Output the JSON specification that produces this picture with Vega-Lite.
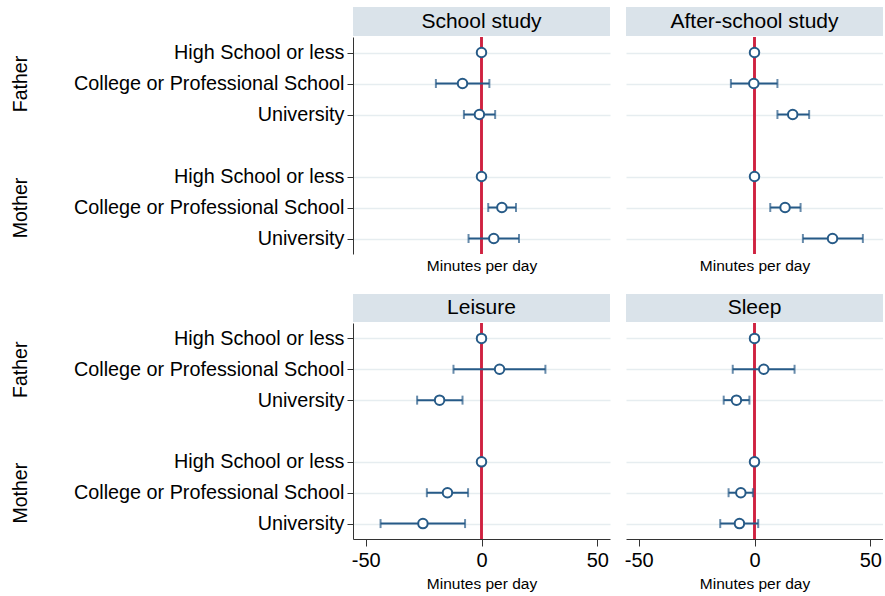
{
  "$schema": "https://vega.github.io/schema/vega-lite/v6.json",
  "background": "white",
  "padding": {"left": 10, "top": 7, "right": 0, "bottom": 0},
  "config": {
    "font": "Liberation Sans",
    "view": {"stroke": null},
    "axis": {"labelColor": "#000", "titleColor": "#000", "titleFontWeight": "normal", "labelFont": "Liberation Sans", "titleFont": "Liberation Sans"}
  },
  "datasets": {
    "est": [
      {"outcome": "School study", "parent": "Father", "edu": "High School or less", "item": "Father|High School or less", "est": 0, "lo": null, "hi": null},
      {"outcome": "School study", "parent": "Father", "edu": "College or Professional School", "item": "Father|College or Professional School", "est": -8.2, "lo": -19.7, "hi": 3.4},
      {"outcome": "School study", "parent": "Father", "edu": "University", "item": "Father|University", "est": -0.9, "lo": -7.6, "hi": 5.9},
      {"outcome": "School study", "parent": "Mother", "edu": "High School or less", "item": "Mother|High School or less", "est": 0, "lo": null, "hi": null},
      {"outcome": "School study", "parent": "Mother", "edu": "College or Professional School", "item": "Mother|College or Professional School", "est": 8.8, "lo": 2.9, "hi": 14.9},
      {"outcome": "School study", "parent": "Mother", "edu": "University", "item": "Mother|University", "est": 5.3, "lo": -5.6, "hi": 16.2},
      {"outcome": "After-school study", "parent": "Father", "edu": "High School or less", "item": "Father|High School or less", "est": 0, "lo": null, "hi": null},
      {"outcome": "After-school study", "parent": "Father", "edu": "College or Professional School", "item": "Father|College or Professional School", "est": -0.3, "lo": -10.2, "hi": 9.9},
      {"outcome": "After-school study", "parent": "Father", "edu": "University", "item": "Father|University", "est": 16.5, "lo": 9.9, "hi": 23.6},
      {"outcome": "After-school study", "parent": "Mother", "edu": "High School or less", "item": "Mother|High School or less", "est": 0, "lo": null, "hi": null},
      {"outcome": "After-school study", "parent": "Mother", "edu": "College or Professional School", "item": "Mother|College or Professional School", "est": 13.2, "lo": 6.8, "hi": 19.9},
      {"outcome": "After-school study", "parent": "Mother", "edu": "University", "item": "Mother|University", "est": 33.7, "lo": 20.9, "hi": 46.8},
      {"outcome": "Leisure", "parent": "Father", "edu": "High School or less", "item": "Father|High School or less", "est": 0, "lo": null, "hi": null},
      {"outcome": "Leisure", "parent": "Father", "edu": "College or Professional School", "item": "Father|College or Professional School", "est": 7.8, "lo": -12.1, "hi": 27.6},
      {"outcome": "Leisure", "parent": "Father", "edu": "University", "item": "Father|University", "est": -18.1, "lo": -27.8, "hi": -8.2},
      {"outcome": "Leisure", "parent": "Mother", "edu": "High School or less", "item": "Mother|High School or less", "est": 0, "lo": null, "hi": null},
      {"outcome": "Leisure", "parent": "Mother", "edu": "College or Professional School", "item": "Mother|College or Professional School", "est": -14.7, "lo": -23.6, "hi": -5.8},
      {"outcome": "Leisure", "parent": "Mother", "edu": "University", "item": "Mother|University", "est": -25.3, "lo": -43.6, "hi": -7.1},
      {"outcome": "Sleep", "parent": "Father", "edu": "High School or less", "item": "Father|High School or less", "est": 0, "lo": null, "hi": null},
      {"outcome": "Sleep", "parent": "Father", "edu": "College or Professional School", "item": "Father|College or Professional School", "est": 4.0, "lo": -9.4, "hi": 17.3},
      {"outcome": "Sleep", "parent": "Father", "edu": "University", "item": "Father|University", "est": -7.8, "lo": -13.3, "hi": -2.2},
      {"outcome": "Sleep", "parent": "Mother", "edu": "High School or less", "item": "Mother|High School or less", "est": 0, "lo": null, "hi": null},
      {"outcome": "Sleep", "parent": "Mother", "edu": "College or Professional School", "item": "Mother|College or Professional School", "est": -5.9, "lo": -11.2, "hi": -0.7},
      {"outcome": "Sleep", "parent": "Mother", "edu": "University", "item": "Mother|University", "est": -6.5, "lo": -14.8, "hi": 1.6}
    ]
  },
  "spacing": 20,
  "vconcat": [
    {
      "spacing": 16,
      "hconcat": [
        {
          "spacing": 0,
          "vconcat": [
            {"width": 257, "height": 29, "view": {"fill": "#dae3ea", "stroke": null},
             "data": {"values": [{"title": "School study"}]},
             "mark": {"type": "text", "fontSize": 21, "color": "#000", "baseline": "middle", "align": "center"},
             "encoding": {"text": {"field": "title"}}},
            {"width": 257, "height": 217,
             "data": {"name": "est"},
             "transform": [{"filter": "datum.outcome == 'School study'"}],
             "resolve": {"scale": {"y": "independent"}, "axis": {"y": "independent"}},
             "layer": [
               {"mark": {"type": "rule", "color": "#cf2240", "strokeWidth": 1.8}, "encoding": {"x": {"datum": 0, "type": "quantitative", "scale": {"domain": [-55.5, 55.5], "nice": false, "zero": false}}}},
               {"encoding": {"y": {"field": "item", "type": "nominal", "scale": {"type": "point", "padding": 0.5, "domain": ["Father|High School or less", "Father|College or Professional School", "Father|University", "|", "Mother|High School or less", "Mother|College or Professional School", "Mother|University"]},
                  "axis": {"orient": "left", "title": null, "values": ["Father|High School or less", "Father|College or Professional School", "Father|University", "Mother|High School or less", "Mother|College or Professional School", "Mother|University"], "labelExpr": "split(datum.value, '|')[1]", "labelFontSize": 19.8, "labelLimit": 400, "labelPadding": 3, "tickSize": 6, "tickColor": "#333", "domainColor": "#333", "grid": true, "gridColor": "#e6edf0", "gridWidth": 1.5}}},
                "layer": [
                  {"transform": [{"filter": "datum.lo != null"}], "mark": {"type": "errorbar", "color": "#265a87", "thickness": 2, "ticks": {"size": 9, "thickness": 2}},
                   "encoding": {"x": {"field": "lo", "type": "quantitative", "title": "Minutes per day", "scale": {"domain": [-55.5, 55.5], "nice": false, "zero": false}, "axis": {"title": "Minutes per day", "titleFontSize": 15.5, "titlePadding": 4, "labels": false, "ticks": false, "domain": false, "grid": false, "values": [-50, 0, 50]}}, "x2": {"field": "hi"}}},
                  {"mark": {"type": "point", "shape": "circle", "filled": true, "fill": "white", "stroke": "#265a87", "strokeWidth": 2, "size": 90, "opacity": 1},
                   "encoding": {"x": {"field": "est", "type": "quantitative", "title": "Minutes per day", "scale": {"domain": [-55.5, 55.5], "nice": false, "zero": false}, "axis": {"title": "Minutes per day", "titleFontSize": 15.5, "titlePadding": 4, "labels": false, "ticks": false, "domain": false, "grid": false, "values": [-50, 0, 50]}}}}
                ]},
               {"mark": {"type": "point", "opacity": 0},
                "encoding": {"y": {"field": "parent", "type": "nominal", "scale": {"type": "point", "padding": 0.375, "domain": ["Father", "Mother"]},
                  "axis": {"orient": "left", "title": null, "offset": 327, "labelAngle": -90, "labelAlign": "center", "labelBaseline": "alphabetic", "labelFontSize": 19.5, "labelPadding": 0, "ticks": false, "tickSize": 0, "domain": false, "grid": false}}}}
             ]}
          ]
        },
        {
          "spacing": 0,
          "vconcat": [
            {"width": 257, "height": 29, "view": {"fill": "#dae3ea", "stroke": null},
             "data": {"values": [{"title": "After-school study"}]},
             "mark": {"type": "text", "fontSize": 21, "color": "#000", "baseline": "middle", "align": "center"},
             "encoding": {"text": {"field": "title"}}},
            {"width": 257, "height": 217,
             "data": {"name": "est"},
             "transform": [{"filter": "datum.outcome == 'After-school study'"}],
             "layer": [
               {"mark": {"type": "rule", "color": "#cf2240", "strokeWidth": 1.8}, "encoding": {"x": {"datum": 0, "type": "quantitative", "scale": {"domain": [-55.5, 55.5], "nice": false, "zero": false}}}},
               {"encoding": {"y": {"field": "item", "type": "nominal", "scale": {"type": "point", "padding": 0.5, "domain": ["Father|High School or less", "Father|College or Professional School", "Father|University", "|", "Mother|High School or less", "Mother|College or Professional School", "Mother|University"]},
                  "axis": {"title": null, "values": ["Father|High School or less", "Father|College or Professional School", "Father|University", "Mother|High School or less", "Mother|College or Professional School", "Mother|University"], "labels": false, "ticks": false, "domain": false, "grid": true, "gridColor": "#e6edf0", "gridWidth": 1.5}}},
                "layer": [
                  {"transform": [{"filter": "datum.lo != null"}], "mark": {"type": "errorbar", "color": "#265a87", "thickness": 2, "ticks": {"size": 9, "thickness": 2}},
                   "encoding": {"x": {"field": "lo", "type": "quantitative", "title": "Minutes per day", "scale": {"domain": [-55.5, 55.5], "nice": false, "zero": false}, "axis": {"title": "Minutes per day", "titleFontSize": 15.5, "titlePadding": 4, "labels": false, "ticks": false, "domain": false, "grid": false, "values": [-50, 0, 50]}}, "x2": {"field": "hi"}}},
                  {"mark": {"type": "point", "shape": "circle", "filled": true, "fill": "white", "stroke": "#265a87", "strokeWidth": 2, "size": 90, "opacity": 1},
                   "encoding": {"x": {"field": "est", "type": "quantitative", "title": "Minutes per day", "scale": {"domain": [-55.5, 55.5], "nice": false, "zero": false}, "axis": {"title": "Minutes per day", "titleFontSize": 15.5, "titlePadding": 4, "labels": false, "ticks": false, "domain": false, "grid": false, "values": [-50, 0, 50]}}}}
                ]}
             ]}
          ]
        }
      ]
    },
    {
      "spacing": 14,
      "hconcat": [
        {
          "spacing": 0,
          "vconcat": [
            {"width": 257, "height": 28, "view": {"fill": "#dae3ea", "stroke": null},
             "data": {"values": [{"title": "Leisure"}]},
             "mark": {"type": "text", "fontSize": 21, "color": "#000", "baseline": "middle", "align": "center"},
             "encoding": {"text": {"field": "title"}}},
            {"width": 257, "height": 216,
             "data": {"name": "est"},
             "transform": [{"filter": "datum.outcome == 'Leisure'"}],
             "resolve": {"scale": {"y": "independent"}, "axis": {"y": "independent"}},
             "layer": [
               {"mark": {"type": "rule", "color": "#cf2240", "strokeWidth": 1.8}, "encoding": {"x": {"datum": 0, "type": "quantitative", "scale": {"domain": [-55.5, 55.5], "nice": false, "zero": false}}}},
               {"encoding": {"y": {"field": "item", "type": "nominal", "scale": {"type": "point", "padding": 0.5, "domain": ["Father|High School or less", "Father|College or Professional School", "Father|University", "|", "Mother|High School or less", "Mother|College or Professional School", "Mother|University"]},
                  "axis": {"orient": "left", "title": null, "values": ["Father|High School or less", "Father|College or Professional School", "Father|University", "Mother|High School or less", "Mother|College or Professional School", "Mother|University"], "labelExpr": "split(datum.value, '|')[1]", "labelFontSize": 19.8, "labelLimit": 400, "labelPadding": 3, "tickSize": 6, "tickColor": "#333", "domainColor": "#333", "grid": true, "gridColor": "#e6edf0", "gridWidth": 1.5}}},
                "layer": [
                  {"transform": [{"filter": "datum.lo != null"}], "mark": {"type": "errorbar", "color": "#265a87", "thickness": 2, "ticks": {"size": 9, "thickness": 2}},
                   "encoding": {"x": {"field": "lo", "type": "quantitative", "title": "Minutes per day", "scale": {"domain": [-55.5, 55.5], "nice": false, "zero": false}, "axis": {"title": "Minutes per day", "titleFontSize": 15.5, "titlePadding": 6, "labelFontSize": 20, "labelPadding": 4, "labelFlush": false, "labelExpr": "replace(datum.label, '\u2212', '-')", "tickSize": 7, "tickColor": "#333", "domainColor": "#333", "grid": false, "values": [-50, 0, 50]}}, "x2": {"field": "hi"}}},
                  {"mark": {"type": "point", "shape": "circle", "filled": true, "fill": "white", "stroke": "#265a87", "strokeWidth": 2, "size": 90, "opacity": 1},
                   "encoding": {"x": {"field": "est", "type": "quantitative", "title": "Minutes per day", "scale": {"domain": [-55.5, 55.5], "nice": false, "zero": false}, "axis": {"title": "Minutes per day", "titleFontSize": 15.5, "titlePadding": 6, "labelFontSize": 20, "labelPadding": 4, "labelFlush": false, "labelExpr": "replace(datum.label, '\u2212', '-')", "tickSize": 7, "tickColor": "#333", "domainColor": "#333", "grid": false, "values": [-50, 0, 50]}}}}
                ]},
               {"mark": {"type": "point", "opacity": 0},
                "encoding": {"y": {"field": "parent", "type": "nominal", "scale": {"type": "point", "padding": 0.375, "domain": ["Father", "Mother"]},
                  "axis": {"orient": "left", "title": null, "offset": 327, "labelAngle": -90, "labelAlign": "center", "labelBaseline": "alphabetic", "labelFontSize": 19.5, "labelPadding": 0, "ticks": false, "tickSize": 0, "domain": false, "grid": false}}}}
             ]}
          ]
        },
        {
          "spacing": 0,
          "vconcat": [
            {"width": 257, "height": 28, "view": {"fill": "#dae3ea", "stroke": null},
             "data": {"values": [{"title": "Sleep"}]},
             "mark": {"type": "text", "fontSize": 21, "color": "#000", "baseline": "middle", "align": "center"},
             "encoding": {"text": {"field": "title"}}},
            {"width": 257, "height": 216,
             "data": {"name": "est"},
             "transform": [{"filter": "datum.outcome == 'Sleep'"}],
             "layer": [
               {"mark": {"type": "rule", "color": "#cf2240", "strokeWidth": 1.8}, "encoding": {"x": {"datum": 0, "type": "quantitative", "scale": {"domain": [-55.5, 55.5], "nice": false, "zero": false}}}},
               {"encoding": {"y": {"field": "item", "type": "nominal", "scale": {"type": "point", "padding": 0.5, "domain": ["Father|High School or less", "Father|College or Professional School", "Father|University", "|", "Mother|High School or less", "Mother|College or Professional School", "Mother|University"]},
                  "axis": {"title": null, "values": ["Father|High School or less", "Father|College or Professional School", "Father|University", "Mother|High School or less", "Mother|College or Professional School", "Mother|University"], "labels": false, "ticks": false, "domain": false, "grid": true, "gridColor": "#e6edf0", "gridWidth": 1.5}}},
                "layer": [
                  {"transform": [{"filter": "datum.lo != null"}], "mark": {"type": "errorbar", "color": "#265a87", "thickness": 2, "ticks": {"size": 9, "thickness": 2}},
                   "encoding": {"x": {"field": "lo", "type": "quantitative", "title": "Minutes per day", "scale": {"domain": [-55.5, 55.5], "nice": false, "zero": false}, "axis": {"title": "Minutes per day", "titleFontSize": 15.5, "titlePadding": 6, "labelFontSize": 20, "labelPadding": 4, "labelFlush": false, "labelExpr": "replace(datum.label, '\u2212', '-')", "tickSize": 7, "tickColor": "#333", "domainColor": "#333", "grid": false, "values": [-50, 0, 50]}}, "x2": {"field": "hi"}}},
                  {"mark": {"type": "point", "shape": "circle", "filled": true, "fill": "white", "stroke": "#265a87", "strokeWidth": 2, "size": 90, "opacity": 1},
                   "encoding": {"x": {"field": "est", "type": "quantitative", "title": "Minutes per day", "scale": {"domain": [-55.5, 55.5], "nice": false, "zero": false}, "axis": {"title": "Minutes per day", "titleFontSize": 15.5, "titlePadding": 6, "labelFontSize": 20, "labelPadding": 4, "labelFlush": false, "labelExpr": "replace(datum.label, '\u2212', '-')", "tickSize": 7, "tickColor": "#333", "domainColor": "#333", "grid": false, "values": [-50, 0, 50]}}}}
                ]}
             ]}
          ]
        }
      ]
    }
  ]
}
